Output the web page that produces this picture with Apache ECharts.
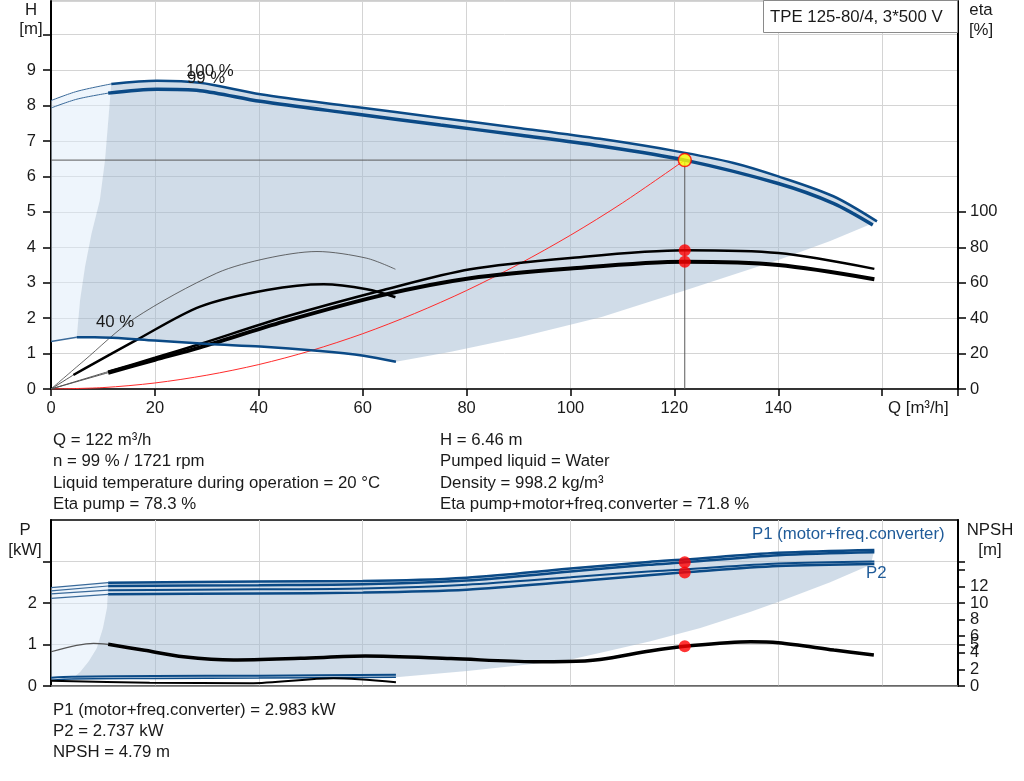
<!DOCTYPE html>
<html><head><meta charset="utf-8">
<script src="https://cdn.jsdelivr.net/npm/echarts@6/dist/echarts.min.js"></script>
<style>html,body{margin:0;padding:0;background:#fff}#c{width:1024px;height:781px}</style>
</head><body><div id="c"></div>
<script>
// ---------------- data ----------------
// Head curves [Q m3/h, H m]
const Q_H100 = [0, 5, 11.6, 20.4, 28.7, 40.3, 57.6, 75, 90.4, 105.7, 120, 131.4, 140, 150.6, 159];
const H_100  = [8.14, 8.40, 8.61, 8.70, 8.64, 8.32, 7.98, 7.65, 7.36, 7.06, 6.72, 6.38, 6.00, 5.44, 4.73];
const Q_H99  = [0, 5, 11, 20.4, 28.7, 40.3, 57.6, 75, 90.4, 105.7, 122, 140, 150.6, 158.2];
const H_99   = [7.93, 8.18, 8.35, 8.46, 8.42, 8.12, 7.78, 7.45, 7.16, 6.86, 6.46, 5.80, 5.24, 4.63];
const Q_H40  = [0, 4.95, 8.4, 20, 30.3, 40.3, 51.2, 60.2, 66.4];
const H_40   = [1.34, 1.46, 1.46, 1.37, 1.27, 1.20, 1.08, 0.94, 0.77];
// operating-range boundaries (top)
const Q_LEFT_H = [4.95, 5.6, 6.55, 7.8, 9.4, 10.4, 11.6];
const H_LEFT   = [1.46, 2.51, 3.45, 4.39, 5.33, 6.46, 8.61];
const Q_END_H  = [159, 150, 140, 122, 106, 90, 77, 66.4];
const H_END    = [4.73, 4.18, 3.64, 2.78, 2.03, 1.45, 1.05, 0.77];
// system curve
const Q_SYS = [0, 10, 20, 30, 40, 50, 60, 70, 80, 90, 100, 110, 122];
const H_SYS = [0, 0.04, 0.17, 0.39, 0.69, 1.08, 1.56, 2.13, 2.78, 3.52, 4.34, 5.25, 6.46];
// efficiency curves [Q, eta %]
const Q_ETAP = [0, 11, 20, 28.7, 44.8, 64, 80.7, 100, 122, 140, 158.5];
const ETA_P  = [0, 9.8, 17.6, 25.4, 40.5, 55.9, 67.6, 74.0, 78.3, 76.7, 67.8];
const Q_ETAT = [0, 11, 20, 28.7, 44.8, 64, 80.7, 100, 122, 140, 158.5];
const ETA_T  = [0, 9.2, 16.5, 23.5, 38.0, 53.1, 62.5, 68.0, 71.8, 70.0, 62.0];
const Q_ETAP40 = [0, 6.2, 16.1, 31.9, 41.6, 51.2, 60.8, 66.3];
const ETA_P40  = [0, 15.6, 39.9, 65.4, 73.8, 77.6, 73.8, 67.6];
const Q_ETAT40 = [0, 4.3, 16.5, 28.7, 41.6, 52.5, 60.8, 66.3];
const ETA_T40  = [0, 7.9, 27.7, 46.5, 55.9, 59.1, 56.3, 51.8];
// power curves [Q, P kW]
const Q_P = [0, 11, 40, 60, 80, 100, 115, 122, 140, 158.5];
const P1_100 = [2.37, 2.49, 2.52, 2.53, 2.61, 2.83, 2.99, 3.05, 3.21, 3.28];
const P1_99  = [2.29, 2.41, 2.43, 2.45, 2.54, 2.76, 2.92, 2.98, 3.15, 3.22];
const P2_100 = [2.22, 2.31, 2.33, 2.35, 2.44, 2.62, 2.76, 2.81, 2.95, 3.00];
const P2_99  = [2.11, 2.21, 2.23, 2.25, 2.32, 2.51, 2.67, 2.74, 2.89, 2.94];
const Q_P40  = [0, 4.0, 20, 40, 66.4];
const P1_40  = [0.20, 0.22, 0.24, 0.25, 0.27];
const P2_40  = [0.14, 0.17, 0.18, 0.19, 0.21];
const Q_LEFT_P = [4.0, 5.6, 7.3, 8.8, 10.0, 10.8, 11.0];
const P_LEFT   = [0.17, 0.34, 0.6, 0.91, 1.4, 1.9, 2.49];
const Q_END_P  = [158.5, 157.8, 150, 140.5, 134.7, 125, 115.4, 105.8, 99.4, 80.1, 66.4];
const P_END    = [3.28, 2.92, 2.50, 2.05, 1.79, 1.40, 1.08, 0.80, 0.62, 0.36, 0.21];
// NPSH [Q, m]
const Q_NPSH = [0, 8.2, 11, 18, 25.5, 35.1, 48, 60.5, 77, 92.9, 99.3, 105.7, 115.3, 122, 134.7, 140, 150.7, 158.4];
const NPSH   = [4.13, 5.14, 5.02, 4.3, 3.53, 3.13, 3.33, 3.6, 3.3, 2.93, 2.95, 3.2, 4.22, 4.79, 5.34, 5.22, 4.34, 3.73];
const Q_NPSH40 = [0, 19, 38.3, 54.4, 66.4];
const NPSH40   = [0.64, 0.40, 0.33, 0.93, 0.45];
// duty point
const OP_Q = 122, OP_H = 6.46, OP_ETAP = 78.3, OP_ETAT = 71.8, OP_P1 = 2.983, OP_P2 = 2.737, OP_NPSH = 4.79;
// axis ticks
const Q_LABELS = [0, 20, 40, 60, 80, 100, 120, 140];
const ETA_TICKS = [0, 20, 40, 60, 80, 100];
const P_TICKS = [0, 1, 2, 3];
const P_LABELS = [0, 1, 2];
const NPSH_TICKS = [0, 2, 4, 5, 6, 8, 10, 12, 14, 15];
const NPSH_LABELS_A = [0, 4, 5, 6, 8, 12];
const NPSH_LABELS_B = [2, 10];

// ---------------- helpers ----------------
const zip = (q, v) => q.map((x, i) => [x, v[i]]);
const FONT = '"Liberation Sans", Arial, sans-serif';
const BLUE = '#0b4a86';
function line(xi, yi, data, color, width, z) {
  return { type: 'line', xAxisIndex: xi, yAxisIndex: yi, data, showSymbol: false, smooth: 0.3,
    lineStyle: { color, width }, silent: true, z: z || 3, animation: false };
}
function curve(out, xi, yi, q, v, split, color, width, leadColor, leadWidth, z) {
  const pts = zip(q, v);
  const lead = pts.filter(p => p[0] <= split);
  const main = pts.filter(p => p[0] >= split);
  if (lead.length > 1) out.push(line(xi, yi, lead, leadColor, leadWidth, z));
  out.push(line(xi, yi, main, color, width, z));
}
function poly(xi, yi, pts, fill, z) {
  return { type: 'custom', xAxisIndex: xi, yAxisIndex: yi, data: [[0, 0]], silent: true, z: z || 1,
    animation: false, clip: true,
    renderItem: (params, api) => ({ type: 'polygon', shape: { points: pts.map(p => api.coord(p)) },
      style: { fill, stroke: null } }) };
}
const DARK = 'rgba(161,185,209,0.5)';
const LIGHT = 'rgba(221,235,249,0.5)';

// top polygons
const h100 = zip(Q_H100, H_100), h40 = zip(Q_H40, H_40), leftH = zip(Q_LEFT_H, H_LEFT), endH = zip(Q_END_H, H_END);
const qL = Q_LEFT_H[Q_LEFT_H.length - 1], qB = Q_LEFT_H[0];
const topLight = [...h100.filter(p => p[0] <= qL), ...leftH.slice().reverse(), ...h40.filter(p => p[0] <= qB).reverse()];
const topDark = [...leftH, ...h100.filter(p => p[0] > qL), ...endH, ...h40.filter(p => p[0] >= qB && p[0] < Q_END_H[Q_END_H.length - 1]).reverse()];
// bottom polygons
const p1 = zip(Q_P, P1_100), p240 = zip(Q_P40, P2_40), leftP = zip(Q_LEFT_P, P_LEFT), endP = zip(Q_END_P, P_END);
const qLP = Q_LEFT_P[Q_LEFT_P.length - 1], qBP = Q_LEFT_P[0];
const botLight = [...p1.filter(p => p[0] <= qLP), ...leftP.slice().reverse(), ...p240.filter(p => p[0] <= qBP).reverse()];
const botDark = [...leftP, ...p1.filter(p => p[0] > qLP), ...endP, ...p240.filter(p => p[0] >= qBP && p[0] < 66.4).reverse()];

const series = [];
series.push(poly(0, 0, topLight, LIGHT));
series.push(poly(0, 0, topDark, DARK));
series.push(line(0, 0, zip(Q_SYS, H_SYS), '#ff2b2b', 1, 2));
series.push({ type: 'line', xAxisIndex: 0, yAxisIndex: 0, data: [[0, OP_H], [OP_Q, OP_H], [OP_Q, 0]],
  showSymbol: false, lineStyle: { color: '#5a5a5a', width: 1 }, silent: true, z: 2, animation: false });
curve(series, 0, 0, Q_H100, H_100, 11.6, BLUE, 2.5, '#3a6a9a', 1, 4);
curve(series, 0, 0, Q_H99, H_99, 11, BLUE, 3.5, '#3a6a9a', 1, 4);
curve(series, 0, 0, Q_H40, H_40, 4.95, BLUE, 2.5, '#3a6a9a', 1.5, 4);
series.push(line(0, 1, zip(Q_ETAP40, ETA_P40), '#444', 0.8, 3));
curve(series, 0, 1, Q_ETAT40, ETA_T40, 4.3, '#000', 2.5, '#555', 1, 3);
curve(series, 0, 1, Q_ETAP, ETA_P, 11, '#000', 2.5, '#555', 1, 3);
curve(series, 0, 1, Q_ETAT, ETA_T, 11, '#000', 4, '#555', 1, 3);
series.push({ type: 'scatter', xAxisIndex: 0, yAxisIndex: 1, data: [[OP_Q, OP_ETAP], [OP_Q, OP_ETAT]],
  symbolSize: 12, itemStyle: { color: '#ff0000' }, z: 10, silent: true, animation: false });
series.push({ type: 'scatter', xAxisIndex: 0, yAxisIndex: 0, data: [[OP_Q, OP_H]],
  symbolSize: 13, itemStyle: { color: '#ffff00', borderColor: '#ff0000', borderWidth: 1.5 }, z: 10, silent: true, animation: false });

series.push(poly(1, 2, botLight, LIGHT));
series.push(poly(1, 2, botDark, DARK));
curve(series, 1, 2, Q_P, P2_99, 11, BLUE, 2.5, '#3a6a9a', 1.2, 4);
curve(series, 1, 2, Q_P, P2_100, 11, BLUE, 2, '#3a6a9a', 1.2, 4);
curve(series, 1, 2, Q_P, P1_99, 11, BLUE, 2.5, '#3a6a9a', 1.2, 4);
curve(series, 1, 2, Q_P, P1_100, 11, BLUE, 2.5, '#3a6a9a', 1.2, 4);
series.push(line(1, 2, zip(Q_P40, P1_40), BLUE, 2, 4));
series.push(line(1, 2, zip(Q_P40, P2_40), BLUE, 1.5, 4));
curve(series, 1, 3, Q_NPSH, NPSH, 11, '#000', 3.5, '#555', 1.2, 4);
series.push(line(1, 3, zip(Q_NPSH40, NPSH40), '#000', 2, 4));
series.push({ type: 'scatter', xAxisIndex: 1, yAxisIndex: 2, data: [[OP_Q, OP_P1], [OP_Q, OP_P2]],
  symbolSize: 12, itemStyle: { color: '#ff0000' }, z: 10, silent: true, animation: false });
series.push({ type: 'scatter', xAxisIndex: 1, yAxisIndex: 3, data: [[OP_Q, OP_NPSH]],
  symbolSize: 12, itemStyle: { color: '#ff0000' }, z: 10, silent: true, animation: false });

const lab = { fontFamily: FONT, fontSize: 16.5, color: '#1a1a1a', showMinLabel: true, showMaxLabel: true, hideOverlap: false };
const SPLIT = { show: true, lineStyle: { color: '#d4d4d4', width: 1 } };
const X_MAX = 174.6;

function txt(x, y, text, opt) {
  return Object.assign({ type: 'text', x, y, silent: true, z: 100,
    style: Object.assign({ text, fill: '#1a1a1a', font: '16.8px ' + FONT, align: 'left', verticalAlign: 'middle' }, opt || {}) });
}
const graphic = [
  { type: 'rect', shape: { x: 763.5, y: 0.5, width: 194, height: 32 }, style: { fill: '#fff', stroke: '#8a8a8a', lineWidth: 1 }, z: 99, silent: true },
  txt(770, 17, 'TPE 125-80/4, 3*500 V'),
  txt(31, 10, 'H', { align: 'center' }), txt(31, 29, '[m]', { align: 'center' }),
  txt(981, 10, 'eta', { align: 'center' }), txt(981, 30, '[%]', { align: 'center' }),
  txt(888, 408, 'Q [m³/h]'),
  txt(186, 71, '100 %'), txt(187, 78, '99 %'), txt(96, 322, '40 %'),
  txt(53, 440, 'Q = 122 m³/h'), txt(53, 461, 'n = 99 % / 1721 rpm'),
  txt(53, 483, 'Liquid temperature during operation = 20 °C'), txt(53, 504, 'Eta pump = 78.3 %'),
  txt(440, 440, 'H = 6.46 m'), txt(440, 461, 'Pumped liquid = Water'),
  txt(440, 483, 'Density = 998.2 kg/m³'), txt(440, 504, 'Eta pump+motor+freq.converter = 71.8 %'),
  txt(25, 530, 'P', { align: 'center' }), txt(25, 550, '[kW]', { align: 'center' }),
  txt(990, 530, 'NPSH', { align: 'center' }), txt(990, 550, '[m]', { align: 'center' }),
  txt(752, 534, 'P1 (motor+freq.converter)', { fill: '#1f5b99' }),
  txt(866, 573, 'P2', { fill: '#1f5b99' }),
  txt(53, 710, 'P1 (motor+freq.converter) = 2.983 kW'), txt(53, 731, 'P2 = 2.737 kW'), txt(53, 752, 'NPSH = 4.79 m')
];

const option = {
  animation: false,
  backgroundColor: '#fff',
  grid: [
    { left: 51, top: 1, width: 907, height: 388, show: true, borderColor: '#9a9a9a', borderWidth: 1, backgroundColor: 'transparent' },
    { left: 51, top: 520, width: 907, height: 166, show: true, borderColor: '#000', borderWidth: 1.5, backgroundColor: 'transparent' }
  ],
  xAxis: [
    { gridIndex: 0, type: 'value', min: 0, max: X_MAX, interval: 20,
      axisLine: { lineStyle: { color: '#000', width: 1.5 } },
      axisTick: { length: 7, lineStyle: { color: '#000', width: 1.5 } },
      axisLabel: Object.assign({ margin: 11, customValues: Q_LABELS }, lab), splitLine: SPLIT },
    { gridIndex: 1, type: 'value', min: 0, max: X_MAX, interval: 20,
      axisLine: { lineStyle: { color: '#777', width: 1.5 } }, axisTick: { show: false },
      axisLabel: { show: false }, splitLine: SPLIT }
  ],
  yAxis: [
    { gridIndex: 0, type: 'value', min: 0, max: 10.95, interval: 1,
      axisLine: { show: true, lineStyle: { color: '#000', width: 2 } },
      axisTick: { show: true, length: 8, lineStyle: { color: '#000', width: 1.5 } },
      axisLabel: Object.assign({}, lab, { margin: 15, showMaxLabel: false, formatter: v => (v > 9 ? '' : v) }), splitLine: SPLIT },
    { gridIndex: 0, type: 'value', min: 0, max: 219, position: 'right',
      axisLine: { show: true, lineStyle: { color: '#000', width: 2 } },
      axisTick: { show: true, length: 8, customValues: ETA_TICKS, lineStyle: { color: '#000', width: 1.5 } },
      axisLabel: Object.assign({ margin: 12, customValues: ETA_TICKS }, lab), splitLine: { show: false } },
    { gridIndex: 1, type: 'value', min: 0, max: 4, interval: 1,
      axisLine: { show: true, lineStyle: { color: '#000', width: 2 } },
      axisTick: { show: true, length: 8, customValues: P_TICKS, lineStyle: { color: '#000', width: 1.5 } },
      axisLabel: Object.assign({ margin: 14, customValues: P_LABELS }, lab), splitLine: SPLIT },
    { gridIndex: 1, type: 'value', min: 0, max: 20, position: 'right',
      axisLine: { show: true, lineStyle: { color: '#000', width: 2 } },
      axisTick: { show: true, length: 7, customValues: NPSH_TICKS, lineStyle: { color: '#000', width: 1.5 } },
      axisLabel: Object.assign({ margin: 12, customValues: NPSH_LABELS_A }, lab), splitLine: { show: false } },
    { gridIndex: 1, type: 'value', min: 0, max: 20, position: 'right', offset: 0,
      axisLine: { show: false }, axisTick: { show: false },
      axisLabel: Object.assign({ margin: 12, customValues: NPSH_LABELS_B }, lab), splitLine: { show: false } }
  ],
  graphic,
  series
};
const chart = echarts.init(document.getElementById('c'), null, { renderer: 'canvas' });
chart.setOption(option);
</script>
</body></html>
